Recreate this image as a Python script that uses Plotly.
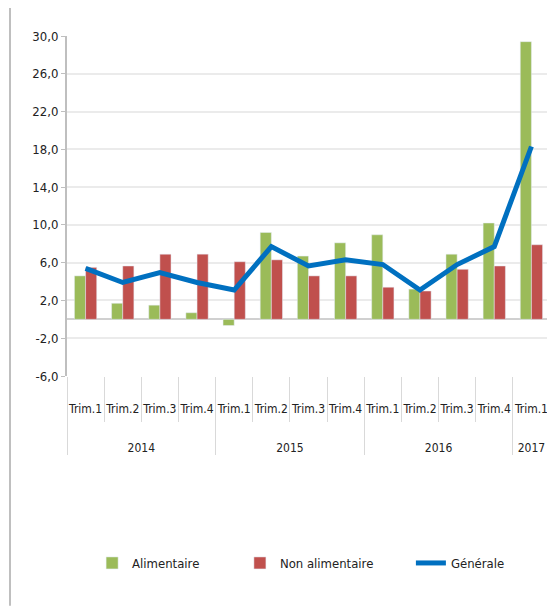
import plotly.graph_objects as go

# data
years = ["2014"] * 4 + ["2015"] * 4 + ["2016"] * 4 + ["2017"]
quarters = ["Trim.1", "Trim.2", "Trim.3", "Trim.4"] * 3 + ["Trim.1"]

alimentaire = [4.6, 1.7, 1.5, 0.7, -0.65, 9.2, 6.7, 8.1, 8.95, 3.2, 6.9, 10.2, 29.4]
non_alimentaire = [5.5, 5.65, 6.9, 6.9, 6.1, 6.3, 4.6, 4.6, 3.4, 3.0, 5.3, 5.65, 7.9]
generale = [5.4, 3.9, 4.95, 3.9, 3.1, 7.7, 5.65, 6.3, 5.8, 3.1, 5.8, 7.7, 18.3]

y_ticks = [-6, -2, 2, 6, 10, 14, 18, 22, 26, 30]
y_labels = ["-6,0", "-2,0", "2,0", "6,0", "10,0", "14,0", "18,0", "22,0", "26,0", "30,0"]

font_family = "DejaVu Sans Condensed, Liberation Sans Narrow, sans-serif"
# blank lines push the year row further down, like the excel layout
x = [["<br><br><br>" + y for y in years], quarters]

fig = go.Figure()
fig.add_trace(go.Bar(x=x, y=alimentaire, name="Alimentaire", legend="legend",
                     marker=dict(color="#9BBB59")))
fig.add_trace(go.Bar(x=x, y=non_alimentaire, name="Non alimentaire",
                     legend="legend2", marker=dict(color="#C0504D")))
fig.add_trace(go.Scatter(x=x, y=generale, name="Générale", mode="lines",
                         legend="legend3",
                         line=dict(color="#0070C0", width=5)))

leg = dict(orientation="h", y=-0.55, yanchor="middle", xanchor="left",
           font=dict(size=13), bgcolor="rgba(0,0,0,0)")

# the page body adds an 8px offset, so the figure is 8px smaller
fig.update_layout(
    width=547, height=598,
    margin=dict(l=59, r=5, t=28, b=230),
    paper_bgcolor="white", plot_bgcolor="white",
    font=dict(family=font_family, size=12, color="#222222"),
    barmode="group", bargap=0.4, bargroupgap=0,
    showlegend=True,
    legend=dict(leg, x=0.052),
    legend2=dict(leg, x=0.358),
    legend3=dict(leg, x=0.712),
    shapes=[dict(type="line", xref="paper", yref="paper",
                 x0=-0.118, x1=-0.118, y0=-0.676, y1=1.082,
                 line=dict(color="#BFBFBF", width=2))],
)
fig.update_yaxes(range=[-6, 30], tickvals=y_ticks, ticktext=y_labels,
                 automargin=False, tickfont=dict(size=13),
                 showgrid=True, gridcolor="#EBEBEB", gridwidth=2,
                 zeroline=True, zerolinecolor="#D0D0D0", zerolinewidth=2,
                 showline=True, linecolor="#BFBFBF", linewidth=2,
                 ticks="outside", tickcolor="#BFBFBF", ticklen=4)
fig.update_xaxes(type="multicategory", showdividers=True,
                 dividercolor="#D9D9D9", dividerwidth=1,
                 ticks="outside", ticklen=45, tickcolor="#D9D9D9",
                 ticklabelstandoff=24,
                 tickangle=0, automargin=False,
                 showline=False, tickfont=dict(size=12))

fig.write_html("out.html")
